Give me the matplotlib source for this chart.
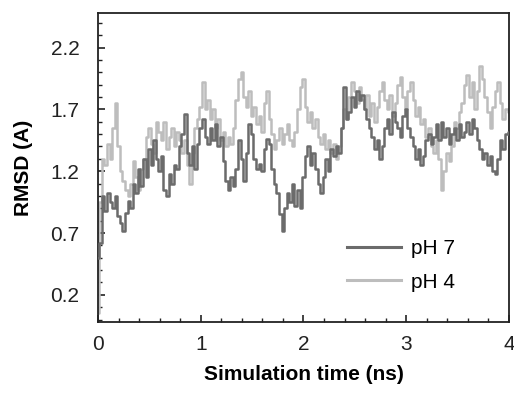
import numpy as np
import matplotlib
matplotlib.use("Agg")
import matplotlib.pyplot as plt
from matplotlib.ticker import MultipleLocator, FixedLocator

plt.rcParams['font.family'] = ['Liberation Sans', 'DejaVu Sans']

time_ns = [round(i * 0.025, 3) for i in range(161)]

rmsd_ph7 = [
    0.50, 0.62, 1.00, 0.88, 1.02, 0.95, 0.90, 1.00, 0.84, 0.78,
    0.72, 0.86, 0.96, 0.90, 1.10, 1.02, 1.22, 1.08, 1.30, 1.15,
    1.38, 1.25, 1.45, 1.30, 1.20, 1.32, 1.05, 1.00, 1.18, 1.10,
    1.25, 1.22, 1.40, 1.50, 1.66, 1.35, 1.25, 1.40, 1.22, 1.42,
    1.55, 1.62, 1.48, 1.42, 1.55, 1.45, 1.58, 1.40, 1.48, 1.28,
    1.12, 1.05, 1.15, 1.08, 1.22, 1.45, 1.30, 1.12, 1.35, 1.58,
    1.50, 1.30, 1.22, 1.26, 1.20, 1.38, 1.46, 1.42, 1.22, 1.10,
    1.02, 0.85, 0.72, 0.90, 1.02, 0.95, 1.10, 0.92, 1.05, 0.90,
    1.15, 1.32, 1.40, 1.25, 1.35, 1.22, 1.10, 1.02, 1.15, 1.30,
    1.20, 1.38, 1.32, 1.40, 1.35, 1.55, 1.88, 1.62, 1.68, 1.80,
    1.72, 1.85, 1.78, 1.82, 1.70, 1.62, 1.55, 1.48, 1.38, 1.45,
    1.30, 1.40, 1.55, 1.62, 1.50, 1.68, 1.60, 1.55, 1.48, 1.65,
    1.70, 1.55, 1.48, 1.40, 1.30, 1.38, 1.25, 1.32, 1.45, 1.50,
    1.42, 1.48, 1.58, 1.45, 1.60, 1.48, 1.55, 1.42, 1.50, 1.55,
    1.45, 1.58, 1.48, 1.52, 1.60, 1.50, 1.62, 1.55, 1.45, 1.38,
    1.30, 1.35, 1.25, 1.32, 1.20, 1.18, 1.30, 1.45, 1.38, 1.50,
    1.52,
]

rmsd_ph4 = [
    0.05, 0.95, 1.30, 1.25, 1.42, 1.30, 1.55, 1.75, 1.40, 1.20,
    1.12, 1.05, 1.00, 1.10, 1.28, 1.15, 1.05, 1.22, 1.30, 1.48,
    1.55, 1.42, 1.35, 1.60, 1.52, 1.45, 1.60, 1.38, 1.48, 1.55,
    1.40, 1.52, 1.45, 1.35, 1.45, 1.25, 1.10, 1.35, 1.55, 1.62,
    1.72, 1.92, 1.70, 1.78, 1.62, 1.70, 1.55, 1.62, 1.45, 1.52,
    1.40, 1.48, 1.42, 1.55, 1.78, 1.95, 2.00, 1.80, 1.72, 1.85,
    1.65, 1.72, 1.58, 1.65, 1.52, 1.75, 1.85, 1.62, 1.50, 1.38,
    1.45, 1.55, 1.42, 1.50, 1.58, 1.45, 1.40, 1.52, 1.70, 1.88,
    1.95, 1.72, 1.60, 1.68, 1.55, 1.62, 1.48, 1.42, 1.50, 1.38,
    1.45, 1.35, 1.42, 1.30, 1.40, 1.55, 1.70, 1.62, 1.80, 1.92,
    1.85, 1.75, 1.88, 1.78, 1.70, 1.82, 1.65, 1.75, 1.60, 1.72,
    1.85, 1.92, 1.78, 1.70, 1.82, 1.65, 1.75, 1.90, 1.96, 1.80,
    1.70, 1.85, 1.92, 1.78, 1.65, 1.72, 1.58, 1.62, 1.48, 1.55,
    1.40, 1.35, 1.45, 1.30, 1.05, 1.20, 1.35, 1.28, 1.40, 1.60,
    1.55, 1.68, 1.75, 1.90, 1.98, 1.80, 1.92, 1.70, 1.85, 2.05,
    1.95, 1.80, 1.68, 1.55, 1.72, 1.85, 1.92, 1.75, 1.62, 1.70,
    1.68,
]

series_labels = ["pH 7", "pH 4"]
x_ticks = [0, 1, 2, 3, 4]
y_ticks = [0.2, 0.7, 1.2, 1.7, 2.2]

fig = plt.figure(figsize=(5.14, 3.99), dpi=100)
ax = fig.add_axes([0.1907, 0.193, 0.7993, 0.7744])

ax.plot(time_ns, rmsd_ph4, color='#bdbdbd', lw=1.8, drawstyle='steps-mid',
        label=series_labels[1], zorder=2)
ax.plot(time_ns, rmsd_ph7, color='#6b6b6b', lw=1.8, drawstyle='steps-mid',
        label=series_labels[0], zorder=3)

ax.set_xlim(0, 4)
ax.set_ylim(-0.02, 2.48)
ax.xaxis.set_major_locator(FixedLocator(x_ticks))
ax.xaxis.set_minor_locator(MultipleLocator(0.2))
ax.yaxis.set_major_locator(FixedLocator(y_ticks))
ax.yaxis.set_minor_locator(FixedLocator([round(0.1 * i, 1) for i in range(0, 25)]))
ax.set_xticklabels([str(t) for t in x_ticks])
ax.set_yticklabels([f"{t:.1f}" for t in y_ticks])

ax.tick_params(which='both', direction='in', top=False, right=False,
               labelsize=15, colors='#222222', labelcolor='#222222')
ax.tick_params(which='major', length=5, width=1.2)
ax.tick_params(which='minor', length=3, width=1.0)
ax.tick_params(axis='y', which='major', pad=13.5)
ax.tick_params(axis='x', which='major', pad=9.5)

for sp in ax.spines.values():
    sp.set_linewidth(1.3)
    sp.set_color('#222222')

ax.set_xlabel("Simulation time (ns)", fontsize=15, fontweight='bold', labelpad=8)
ax.set_ylabel("RMSD (A)", fontsize=15, fontweight='bold', labelpad=12)

handles, labels = ax.get_legend_handles_labels()
order = [1, 0]
leg = ax.legend([handles[i] for i in order], [labels[i] for i in order],
                loc='lower right', bbox_to_anchor=(0.915, 0.038), frameon=False,
                fontsize=15, handlelength=2.6, handletextpad=0.5,
                labelspacing=0.7)
for line in leg.get_lines():
    line.set_drawstyle('default')
    line.set_linewidth(2.2)

fig.savefig("out.png", dpi=100)
